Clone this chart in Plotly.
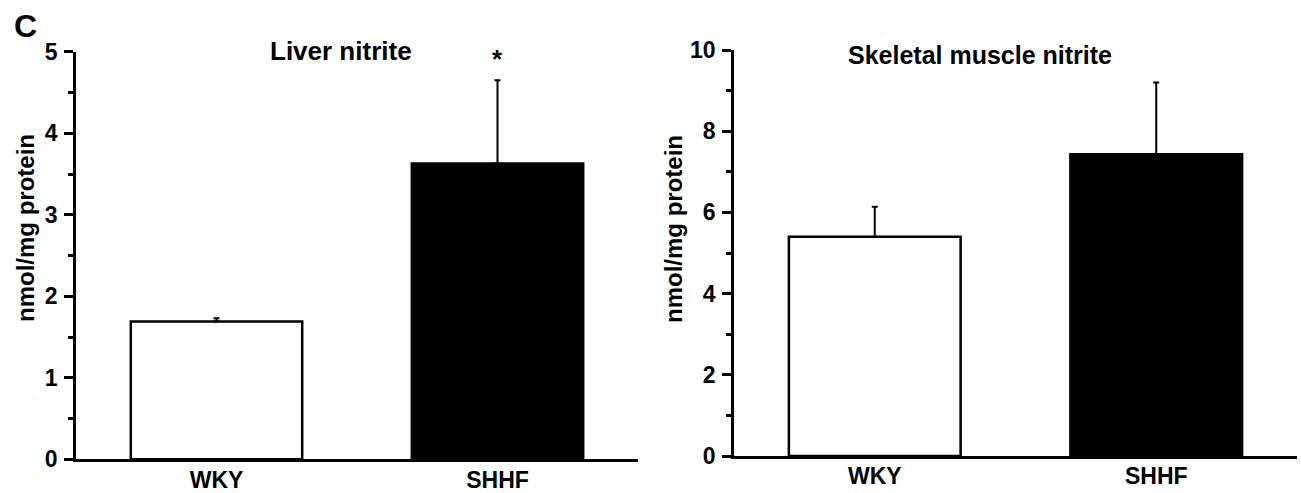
import plotly.graph_objects as go

groups = ["WKY", "SHHF"]
liver_mean = [1.69, 3.63]
liver_err = [0.04, 1.02]
muscle_mean = [5.40, 7.43]
muscle_err = [0.74, 1.77]
bar_fills = ["white", "black"]
liver_ticks = [0, 1, 2, 3, 4, 5]
muscle_ticks = [0, 2, 4, 6, 8, 10]

W, H = 1301, 493
FONT = "Liberation Sans, Arial, sans-serif"

fig = go.Figure()

def bars(y, err, xa, ya):
    return go.Bar(
        x=groups, y=y, xaxis=xa, yaxis=ya, width=0.61,
        marker=dict(color=bar_fills, line=dict(color="black", width=2.5)),
        error_y=dict(type="data", symmetric=False, array=err, arrayminus=[0, 0],
                     color="black", thickness=2, width=3),
        showlegend=False,
    )

fig.add_trace(bars(liver_mean, liver_err, "x", "y"))
fig.add_trace(bars(muscle_mean, muscle_err, "x2", "y2"))

def px_x(p):
    return p / W

def px_y(p):
    return (H - p) / H

tickfont = dict(family=FONT, size=23, color="black", weight="bold")

common_x = dict(range=[-0.5, 1.5], showline=True, linecolor="black", linewidth=2.5,
                ticks="", showgrid=False, zeroline=False, tickfont=tickfont,
                ticklabelstandoff=-2, fixedrange=True, automargin=False)
common_y = dict(showline=True, linecolor="black", linewidth=2.5, ticks="outside",
                ticklen=9, tickwidth=2.5, tickcolor="black", showgrid=False,
                zeroline=False, tickfont=tickfont, ticklabelstandoff=2,
                automargin=False, fixedrange=True)

fig.update_layout(
    width=W, height=H,
    margin=dict(l=0, r=0, t=0, b=0, pad=0),
    paper_bgcolor="white", plot_bgcolor="white",
    bargap=0.4,
    xaxis=dict(domain=[px_x(76), px_x(638)], anchor="y", **common_x),
    yaxis=dict(domain=[px_y(459.3), px_y(51.8)], anchor="x", range=[0, 5],
               tickvals=liver_ticks,
               minor=dict(ticks="outside", ticklen=5, tickwidth=2.5, tickcolor="black", dtick=0.5),
               **common_y),
    xaxis2=dict(domain=[px_x(734), px_x(1297)], anchor="y2", **common_x),
    yaxis2=dict(domain=[px_y(456), px_y(50)], anchor="x2", range=[0, 10],
                tickvals=muscle_ticks,
                minor=dict(ticks="outside", ticklen=5, tickwidth=2.5, tickcolor="black", dtick=1),
                **common_y),
)

bold = dict(family=FONT, color="black", weight="bold")

fig.add_annotation(text="C", xref="paper", yref="paper", x=px_x(12), y=px_y(26),
                   xanchor="left", yanchor="middle", showarrow=False,
                   font=dict(size=32, **bold))
fig.add_annotation(text="Liver nitrite", xref="paper", yref="paper", x=px_x(268), y=px_y(51),
                   xanchor="left", yanchor="middle", showarrow=False,
                   font=dict(size=26, **bold))
fig.add_annotation(text="Skeletal muscle nitrite", xref="paper", yref="paper", x=px_x(846), y=px_y(55),
                   xanchor="left", yanchor="middle", showarrow=False,
                   font=dict(size=25, **bold))
fig.add_annotation(text="nmol/mg protein", xref="paper", yref="paper", x=px_x(25), y=px_y(228),
                   xanchor="center", yanchor="middle", textangle=-90, showarrow=False,
                   font=dict(size=24, **bold))
fig.add_annotation(text="nmol/mg protein", xref="paper", yref="paper", x=px_x(673), y=px_y(229),
                   xanchor="center", yanchor="middle", textangle=-90, showarrow=False,
                   font=dict(size=24, **bold))
# significance marker above SHHF liver error bar
fig.add_annotation(text="*", xref="x", yref="y", x=groups[1],
                   y=liver_mean[1] + liver_err[1], yshift=4,
                   xanchor="center", yanchor="bottom", showarrow=False,
                   font=dict(size=26, **bold))

fig.write_html("out.html", config={"displayModeBar": False},
               post_script="document.body.style.margin='0';document.body.style.overflow='hidden';")
